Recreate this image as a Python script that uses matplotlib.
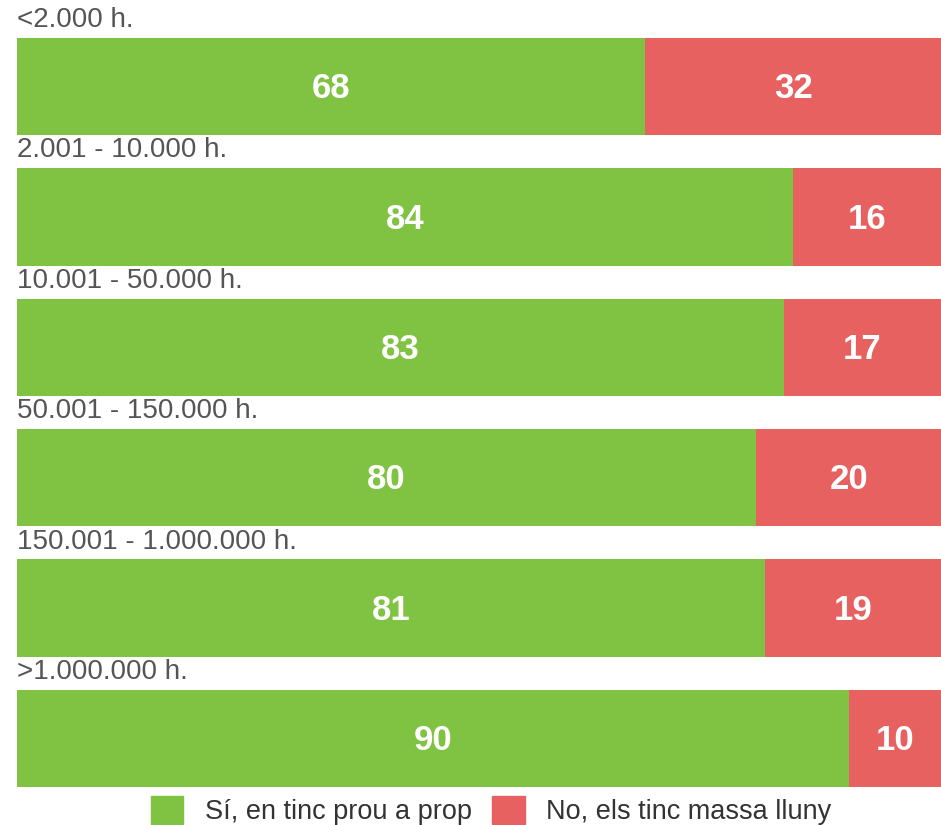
import matplotlib.pyplot as plt
from matplotlib.patches import Patch

plt.rcParams['font.family'] = ['Liberation Sans', 'DejaVu Sans']

# dades
categories = ['<2.000 h.', '2.001 - 10.000 h.', '10.001 - 50.000 h.',
              '50.001 - 150.000 h.', '150.001 - 1.000.000 h.', '>1.000.000 h.']
si_prop = [68, 84, 83, 80, 81, 90]
no_lluny = [32, 16, 17, 20, 19, 10]
series_names = ['Sí, en tinc prou a prop', 'No, els tinc massa lluny']

verd = '#80C241'
vermell = '#E86161'
bar_h = 0.746

fig = plt.figure(figsize=(9.41, 8.25), dpi=100)
ax = fig.add_axes([17/941, (825-787)/825, 1 - 17/941, (787-38)/825])

y = list(range(len(categories)))
ax.barh(y, si_prop, height=bar_h, color=verd)
ax.barh(y, no_lluny, left=si_prop, height=bar_h, color=vermell)

for i in y:
    # etiquetes de valor (baseline una mica sota el centre)
    ax.annotate(str(si_prop[i]), xy=(si_prop[i]/2, i), xytext=(0, -8.5),
                textcoords='offset points', ha='center', va='baseline',
                color='white', fontsize=25, fontweight='bold')
    ax.annotate(str(no_lluny[i]), xy=(si_prop[i] + no_lluny[i]/2, i), xytext=(0, -8.5),
                textcoords='offset points', ha='center', va='baseline',
                color='white', fontsize=25, fontweight='bold')
    ax.annotate(categories[i], xy=(0, i - bar_h/2), xytext=(0, 3.5),
                textcoords='offset points', ha='left', va='bottom',
                color='#555555', fontsize=20)

ax.set_xlim(0, 100)
ax.set_ylim(len(categories) - 1 + bar_h/2, -bar_h/2)
ax.axis('off')

handles = [Patch(color=verd), Patch(color=vermell)]
fig.legend(handles, series_names, loc='lower center', bbox_to_anchor=(0.522, -0.03),
           ncol=2, frameon=False, fontsize=19.5, handlelength=1.2, handleheight=1.2,
           columnspacing=0.75, handletextpad=0.8, labelcolor='#333333')

fig.savefig('out.png', dpi=100)
